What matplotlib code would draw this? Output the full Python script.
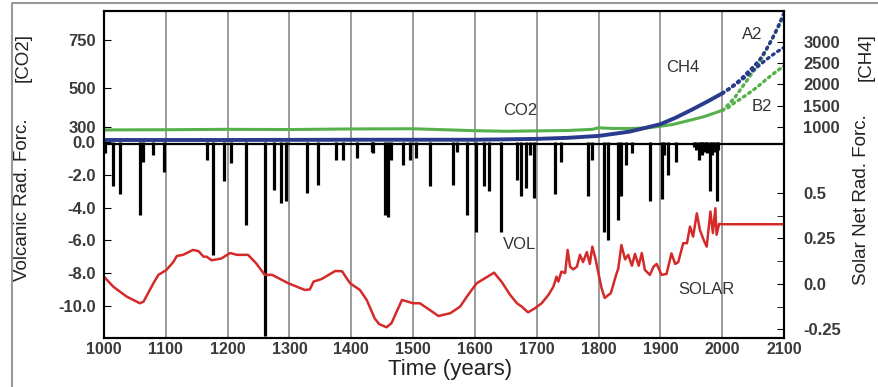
import matplotlib
matplotlib.use("Agg")
import matplotlib.pyplot as plt
from matplotlib.lines import Line2D

plt.rcParams['font.family'] = ['Liberation Sans', 'DejaVu Sans']
plt.rcParams['axes.unicode_minus'] = False

# --- data ---
co2_years = [1000, 1100, 1200, 1300, 1400, 1500, 1600, 1650, 1700, 1750, 1790, 1800,
             1820, 1850, 1880, 1900, 1920, 1950, 1970, 1990, 2000]
co2_values = [284, 285, 287, 286, 289, 290, 280, 277, 279, 281, 287, 295,
              292, 291, 295, 303, 312, 336, 352, 374, 385]

ch4_years = [1000, 1200, 1400, 1600, 1700, 1750, 1800, 1850, 1900, 1925, 1950, 1975, 2000]
ch4_values = [694, 694, 700, 700, 720, 745, 790, 890, 1065, 1220, 1400, 1590, 1790]

future_years = [2000, 2010, 2020, 2030, 2040, 2050, 2060, 2070, 2080, 2090, 2100]
co2_a2 = [385, 415, 450, 495, 540, 585, 630, 690, 750, 810, 875]
co2_b2 = [385, 400, 425, 445, 467, 490, 515, 542, 568, 592, 615]
ch4_a2 = [1790, 1890, 2000, 2120, 2270, 2410, 2570, 2790, 3050, 3350, 3680]
ch4_b2 = [1790, 1880, 1980, 2090, 2210, 2330, 2450, 2570, 2680, 2780, 2870]

vol_years = [1002, 1014, 1026, 1058, 1063, 1079, 1097, 1166, 1176, 1194, 1205,
             1230, 1260, 1275, 1286, 1295, 1329, 1346, 1375, 1387, 1409, 1433,
             1435, 1455, 1460, 1465, 1483, 1495, 1505, 1527, 1565, 1571, 1588,
             1602, 1614, 1623, 1642, 1668, 1675, 1682, 1689, 1696, 1730, 1740,
             1783, 1790, 1809, 1815, 1832, 1837, 1844, 1854, 1883, 1902, 1906,
             1913, 1925, 1955, 1958, 1963, 1966, 1968, 1970, 1974, 1976, 1981,
             1983, 1986, 1992, 1994]
vol_values = [-0.7, -2.7, -3.2, -4.45, -1.2, -0.8, -1.8, -1.1, -6.9, -2.4, -1.3,
              -5.06, -11.8, -2.9, -3.7, -3.6, -3.1, -2.6, -1.1, -1.1, -1.0, -0.6,
              -0.7, -4.45, -4.55, -1.1, -1.4, -1.1, -1.0, -2.7, -2.6, -0.6, -4.45,
              -5.5, -2.7, -3.0, -5.5, -2.3, -3.3, -2.8, -0.8, -3.4, -3.2, -1.2,
              -3.3, -1.1, -5.5, -6.0, -4.75, -3.3, -1.4, -0.7, -3.6, -3.5, -0.8,
              -2.0, -1.2, -0.3, -0.5, -1.1, -0.6, -0.8, -0.6, -0.5, -0.7, -3.0,
              -0.8, -0.6, -3.6, -0.5]
vol_background = -0.15

solar_years = [1000, 1015, 1037, 1058, 1064, 1080, 1088, 1101, 1112, 1118, 1128,
               1144, 1153, 1161, 1166, 1174, 1190, 1204, 1215, 1233, 1246, 1260,
               1272, 1298, 1325, 1333, 1339, 1352, 1374, 1385, 1398, 1414, 1425,
               1438, 1445, 1457, 1465, 1482, 1500, 1511, 1527, 1541, 1560, 1576,
               1589, 1603, 1616, 1631, 1643, 1657, 1668, 1676, 1686, 1697, 1708,
               1719, 1727, 1732, 1735, 1740, 1746, 1750, 1754, 1759, 1765, 1770,
               1775, 1781, 1786, 1790, 1795, 1801, 1805, 1810, 1820, 1828, 1832,
               1837, 1843, 1848, 1854, 1859, 1865, 1870, 1875, 1883, 1889, 1894,
               1902, 1910, 1918, 1924, 1929, 1937, 1943, 1948, 1953, 1959, 1964,
               1970, 1975, 1981, 1985, 1989, 1991, 1995, 2000, 2100]
solar_values = [0.04, -0.015, -0.07, -0.106, -0.097, 0.004, 0.05, 0.077, 0.12, 0.154, 0.16,
                0.187, 0.18, 0.15, 0.15, 0.13, 0.14, 0.17, 0.16, 0.16, 0.114, 0.05,
                0.05, 0.004, -0.033, -0.03, 0.013, 0.027, 0.071, 0.07, 0.004, -0.033, -0.088,
                -0.19, -0.22, -0.238, -0.216, -0.088, -0.106, -0.106, -0.143, -0.176, -0.161, -0.125,
                -0.06, 0.004, 0.031, 0.062, 0.013, -0.06, -0.106, -0.125, -0.156, -0.134, -0.106,
                -0.06, -0.015, 0.04, 0.013, 0.068, 0.06, 0.187, 0.095, 0.08, 0.095, 0.16,
                0.12, 0.175, 0.11, 0.205, 0.14, 0.04, -0.024, -0.077, -0.05, 0.045, 0.086,
                0.214, 0.135, 0.16, 0.1, 0.165, 0.1, 0.17, 0.077, 0.05, 0.095, 0.11,
                0.05, 0.055, 0.168, 0.11, 0.12, 0.224, 0.224, 0.315, 0.26, 0.388, 0.297,
                0.242, 0.205, 0.398, 0.28, 0.416, 0.27, 0.33, 0.328, 0.328]

x_ticks = list(range(1000, 2101, 100))
co2_ticks = [300, 500, 750]
ch4_ticks = [1000, 1500, 2000, 2500, 3000]
vol_ticks = [0, -2, -4, -6, -8, -10]
solar_ticks = [-0.25, 0.0, 0.25, 0.5]
solar_ticklabels = ['-0.25', '0.0', '0.25', '0.5']

green = '#56b04c'
blue = '#2a3a8c'
red = '#d42a2a'
tick_color = '#3a3a3a'
dotted = (0, (0.6, 1.3))

fig = plt.figure(figsize=(8.79, 3.87), dpi=100)
ax_top = fig.add_axes([0.1183, 0.6331, 0.7736, 0.3385])
ax_bot = fig.add_axes([0.1183, 0.1266, 0.7736, 0.5065])
ax_ch4 = ax_top.twinx()
ax_sol = ax_bot.twinx()

for ax in (ax_top, ax_bot):
    ax.set_xlim(1000, 2100)
    ax.set_xticks(x_ticks)
    ax.grid(axis='x', color='#808080', lw=1.1)
    ax.set_axisbelow(True)

# top panel: CO2 (left) and CH4 (right)
ax_top.plot(co2_years, co2_values, color=green, lw=2.2)
ax_top.plot(future_years, co2_a2, color=green, lw=2.4, ls=dotted, dash_capstyle='round')
ax_top.plot(future_years, co2_b2, color=green, lw=2.4, ls=dotted, dash_capstyle='round')
ax_top.set_ylim(221.5, 900)
ax_top.set_yticks(co2_ticks)

ax_ch4.plot(ch4_years, ch4_values, color=blue, lw=2.8)
ax_ch4.plot(future_years, ch4_a2, color=blue, lw=2.4, ls=dotted, dash_capstyle='round')
ax_ch4.plot(future_years, ch4_b2, color=blue, lw=2.4, ls=dotted, dash_capstyle='round')
ax_ch4.set_ylim(647, 3729)
ax_ch4.set_yticks(ch4_ticks)

# bottom panel: volcanic (left) and solar (right)
ax_bot.hlines(vol_background, 1000, 2100, color='black', lw=1.6)
ax_bot.vlines(vol_years, 0, vol_values, color='black', lw=2.3)
ax_bot.set_ylim(-11.95, 0)
ax_bot.set_yticks(vol_ticks)
ax_bot.set_yticklabels([f'{v:.1f}' for v in vol_ticks])

ax_sol.plot(solar_years, solar_values, color=red, lw=1.8)
ax_sol.set_ylim(-0.297, 0.78)
ax_sol.set_yticks(solar_ticks)
ax_sol.set_yticklabels(solar_ticklabels)
ax_sol.set_yticks([-0.125, 0.125, 0.375], minor=True)

for ax in (ax_top, ax_ch4):
    ax.spines['bottom'].set_visible(False)
for ax in (ax_bot, ax_sol):
    ax.spines['top'].set_visible(False)
for ax in (ax_top, ax_ch4, ax_bot, ax_sol):
    for s in ax.spines.values():
        s.set_linewidth(1.5)

ax_top.tick_params(axis='x', length=0, labelbottom=False)
ax_ch4.tick_params(axis='x', length=0, labelbottom=False)
ax_bot.tick_params(axis='x', length=0, pad=3, labelsize=11.5, labelcolor=tick_color)
for ax in (ax_top, ax_bot):
    ax.tick_params(axis='y', direction='in', length=5, pad=6, labelsize=12,
                   labelcolor=tick_color)
for ax in (ax_ch4, ax_sol):
    ax.tick_params(axis='y', which='both', direction='in', length=5, pad=14,
                   labelsize=12, labelcolor=tick_color)
for ax in (ax_top, ax_bot, ax_ch4, ax_sol):
    for lab in ax.get_xticklabels() + ax.get_yticklabels():
        lab.set_fontweight('bold')

# series labels
txt = dict(fontsize=12, color='#333333', ha='center', va='center')
ax_top.text(1673, 387, 'CO2', **txt)
ax_top.text(1937, 605, 'CH4', **txt)
ax_top.text(2049, 776, 'A2', **txt)
ax_top.text(2065, 403, 'B2', **txt)
ax_bot.text(1673, -6.25, 'VOL', **txt)
ax_bot.text(1975, -9.0, 'SOLAR', **txt)

# axis titles
lab = dict(fontsize=13.5, color='#222222', rotation=90, ha='center', va='center')
fig.text(23 / 879, 1 - 57 / 387, '[CO2]', **lab)
fig.text(23 / 879, 1 - 200 / 387, 'Volcanic Rad. Forc.', **lab)
fig.text(866 / 879, 1 - 57 / 387, '[CH4]', **lab)
fig.text(862 / 879, 1 - 200 / 387, 'Solar Net Rad. Forc.', **lab)
fig.text(450 / 879, 1 - 370 / 387, 'Time (years)', fontsize=16, color='#222222',
         ha='center', va='center')

# outer frame of the picture
fig.add_artist(Line2D([12 / 879, 12 / 879, 1], [0, 1 - 3 / 387, 1 - 3 / 387],
                      transform=fig.transFigure, color='#999999', lw=1.5))

fig.savefig('out.png', dpi=100)
